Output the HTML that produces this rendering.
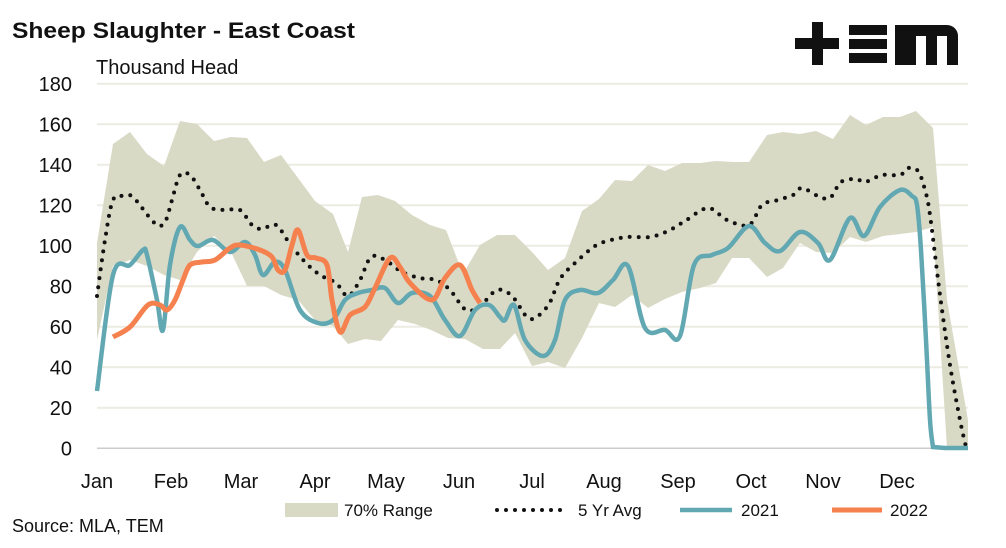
<!DOCTYPE html><html><head><meta charset="utf-8"><style>
body{margin:0;background:#fff;width:1006px;height:543px;overflow:hidden;font-family:"Liberation Sans",sans-serif}
</style></head><body>
<svg id="s" width="1006" height="543" xmlns="http://www.w3.org/2000/svg" font-family="Liberation Sans, sans-serif">
<text x="12" y="38" font-size="22" font-weight="bold" fill="#111" textLength="343" lengthAdjust="spacingAndGlyphs">Sheep Slaughter - East Coast</text>
<text x="96" y="74" font-size="20" fill="#111">Thousand Head</text>
<g fill="#111">
<rect x="795" y="38" width="44" height="11"/><rect x="812" y="22" width="11" height="43"/>
<rect x="849" y="25" width="38" height="10"/><rect x="849" y="39" width="38" height="10"/><rect x="849" y="53" width="38" height="10"/>
<path d="M895 65V25h52a11 11 0 0 1 11 11v29h-11V36h-10v29h-11V36h-10v29z"/>
</g>
<g id="grid" stroke="#ecece2" stroke-width="2"></g>
<g font-size="20" fill="#111" text-anchor="end" id="yl"></g>
<path id="band" fill="#d9dac5"/>
<line x1="97" y1="448.3" x2="968" y2="448.3" stroke="#ccc" stroke-width="1.5"/>
<path id="avg" fill="none" stroke="#111" stroke-width="4" stroke-dasharray="0 9" stroke-linecap="round"/>
<path id="b21" fill="none" stroke="#62a8b2" stroke-width="4.5"/>
<path id="o22" fill="none" stroke="#f5814f" stroke-width="5"/>
<g font-size="20" fill="#111" text-anchor="middle">
<text x="97" y="488">Jan</text><text x="171" y="488">Feb</text><text x="241" y="488">Mar</text><text x="315" y="488">Apr</text><text x="386" y="488">May</text><text x="459" y="488">Jun</text><text x="532" y="488">Jul</text><text x="604" y="488">Aug</text><text x="678" y="488">Sep</text><text x="751" y="488">Oct</text><text x="823" y="488">Nov</text><text x="897" y="488">Dec</text>
</g>
<rect x="285" y="503" width="53" height="14" fill="#d9dac5"/>
<text x="344" y="516" font-size="17" fill="#111">70% Range</text>
<line x1="497" y1="510" x2="568" y2="510" stroke="#111" stroke-width="4" stroke-dasharray="0 9" stroke-linecap="round"/>
<text x="578" y="516" font-size="17" fill="#111">5 Yr Avg</text>
<line x1="680" y1="510" x2="732" y2="510" stroke="#62a8b2" stroke-width="4.5"/>
<text x="741" y="516" font-size="17" fill="#111">2021</text>
<line x1="832" y1="510" x2="882" y2="510" stroke="#f5814f" stroke-width="5"/>
<text x="890" y="516" font-size="17" fill="#111">2022</text>
<text x="12" y="532" font-size="18" fill="#111">Source: MLA, TEM</text>
</svg>
<script>
var NS="http://www.w3.org/2000/svg";
var g=document.getElementById('grid'),yl=document.getElementById('yl');
for(var v=0;v<=180;v+=20){var y=448.3-v*2.025;
if(v>0){var l=document.createElementNS(NS,'line');l.setAttribute('x1',97);l.setAttribute('x2',968);l.setAttribute('y1',y);l.setAttribute('y2',y);g.appendChild(l);}
var t=document.createElementNS(NS,'text');t.setAttribute('x',72);t.setAttribute('y',y+7);t.textContent=v;yl.appendChild(t);}
function sm(p){var d='M'+p[0][0]+' '+p[0][1];for(var i=0;i<p.length-1;i++){var a=p[i-1]||p[i],b=p[i],c=p[i+1],e=p[i+2]||c;
d+=' C'+(b[0]+(c[0]-a[0])/6)+' '+(b[1]+(c[1]-a[1])/6)+' '+(c[0]-(e[0]-b[0])/6)+' '+(c[1]-(e[1]-b[1])/6)+' '+c[0]+' '+c[1];}return d;}
function ln(p){return 'M'+p.map(function(q){return q.join(' ')}).join(' L');}
var up=[[97,243],[113,144],[130,132],[147,154],[164,166],[180,121],[197,124],[214,141],[231,137],[247,138],[264,162],[281,155],[298,178],[315,201],[333,214],[348,252],[362,197],[378,195],[395,201],[412,215],[430,225],[446,230],[463,274],[480,245],[497,235],[515,235],[532,252],[548,270],[565,258],[582,211],[599,199],[615,180],[632,181],[648,165],[665,171],[682,163],[700,163],[716,161],[733,162],[749,162],[767,135],[783,132],[800,134],[816,131],[833,139],[850,115],[866,125],[883,117],[900,117],[916,111],[933,128],[947,300],[968,420],[968,448]];
var lo=[[97,340],[113,266],[130,260],[147,266],[164,275],[180,280],[197,252],[214,236],[231,252],[247,286],[264,286],[281,295],[298,300],[315,320],[333,326],[348,344],[365,339],[381,341],[398,320],[415,324],[431,330],[448,338],[465,339],[483,349],[500,349],[515,333],[532,366],[548,362],[565,368],[582,338],[599,303],[615,307],[632,295],[648,308],[665,299],[682,292],[700,288],[716,283],[732,258],[749,258],[767,277],[783,268],[800,243],[816,252],[833,253],[850,237],[866,242],[883,236],[900,234],[916,232],[933,227],[947,448]];
document.getElementById('band').setAttribute('d',ln(up)+' L'+lo.slice().reverse().map(function(q){return q.join(' ')}).join(' L')+'Z');
var avg=[[97,296],[105,240],[113,200],[124,196],[133,197],[150,218],[159,226],[166,220],[172,200],[180,175],[190,175],[200,190],[210,207],[224,210],[240,210],[252,225],[262,229],[276,225],[290,244],[305,262],[320,275],[336,283],[348,296],[360,280],[371,257],[385,260],[402,272],[420,278],[436,280],[450,290],[466,310],[480,306],[497,290],[512,296],[526,316],[535,318],[549,304],[560,279],[575,263],[595,246],[611,240],[628,237],[650,237],[668,231],[685,221],[708,208],[727,220],[749,225],[762,205],[778,200],[793,195],[802,188],[818,196],[830,198],[841,182],[856,179],[865,182],[882,175],[900,175],[908,168],[918,171],[925,190],[930,215],[940,295],[950,365],[960,420],[966,447]];
document.getElementById('avg').setAttribute('d',sm(avg));
var b=[[97,391],[113,275],[130,265],[143,250],[147,255],[157,300],[163,330],[170,265],[180,227],[190,240],[198,246],[213,240],[230,252],[245,242],[255,255],[263,275],[275,262],[285,270],[300,310],[318,323],[333,320],[345,300],[358,293],[372,290],[385,288],[398,303],[412,293],[430,296],[445,320],[460,336],[475,310],[489,305],[500,317],[505,320],[514,305],[525,340],[543,356],[555,340],[565,300],[580,290],[598,293],[613,280],[628,266],[645,328],[665,330],[680,336],[694,265],[712,255],[728,248],[749,226],[765,243],[780,251],[800,232],[818,243],[830,260],[850,218],[864,236],[880,207],[900,190],[912,196],[917,205],[921,250],[926,340],[930,420],[933,447]];
document.getElementById('b21').setAttribute('d',sm(b)+' L945 448 L968 448');
var o=[[113,337],[130,327],[148,305],[160,305],[167,310],[175,300],[183,280],[190,265],[202,262],[215,260],[230,248],[240,245],[260,250],[272,257],[278,270],[285,270],[292,245],[298,230],[307,255],[316,258],[327,265],[332,300],[340,332],[350,315],[365,307],[375,288],[390,258],[400,267],[410,283],[432,300],[445,278],[460,265],[472,290],[480,303]];
document.getElementById('o22').setAttribute('d',sm(o));
</script>
</body></html>
